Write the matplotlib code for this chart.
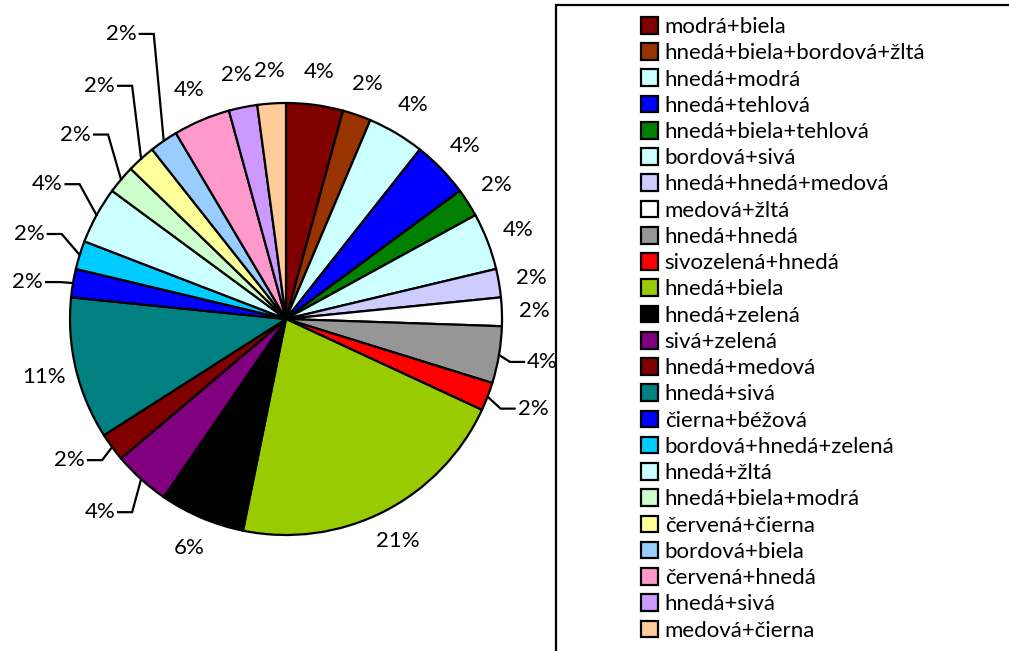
import numpy as np
import matplotlib
matplotlib.use("Agg")
import matplotlib.pyplot as plt
from matplotlib.patches import Rectangle

plt.rcParams["font.family"] = ["Lato", "DejaVu Sans"]

# ---- data (counts, n = 47) ----
labels = [
    "modrá+biela", "hnedá+biela+bordová+žltá", "hnedá+modrá", "hnedá+tehlová",
    "hnedá+biela+tehlová", "bordová+sivá", "hnedá+hnedá+medová", "medová+žltá",
    "hnedá+hnedá", "sivozelená+hnedá", "hnedá+biela", "hnedá+zelená",
    "sivá+zelená", "hnedá+medová", "hnedá+sivá", "čierna+béžová",
    "bordová+hnedá+zelená", "hnedá+žltá", "hnedá+biela+modrá", "červená+čierna",
    "bordová+biela", "červená+hnedá", "hnedá+sivá", "medová+čierna",
]
counts = [2, 1, 2, 2, 1, 2, 1, 1, 2, 1, 10, 3, 2, 1, 5, 1, 1, 2, 1, 1, 1, 2, 1, 1]
colors = [
    "#800000", "#993300", "#CCFFFF", "#0000FF", "#008000", "#CCFFFF",
    "#CCCCFF", "#FFFFFF", "#969696", "#FF0000", "#99CC00", "#000000",
    "#800080", "#800000", "#008080", "#0000FF", "#00CCFF", "#CCFFFF",
    "#CCFFCC", "#FFFF99", "#99CCFF", "#FF99CC", "#CC99FF", "#FFCC99",
]

# leader-line labels: slice index -> elbow offset from the rim (px, y up)
leaders = {
    8: (11, -7), 9: (13, -12), 12: (-9, -33), 13: (-10, -13),
    15: (-13, 1), 16: (-18, 21), 17: (-17, 31), 18: (-13, 45),
    19: (-9, 73), 20: (-10, 107),
}

W, H = 1009, 651
CX, CY, R = 286, H - 319, 216
FS = 16

fig = plt.figure(figsize=(W / 100, H / 100), dpi=100)
ax = fig.add_axes([0, 0, 1, 1])

wedges, _ = ax.pie(counts, colors=colors, startangle=90, counterclock=False,
                   center=(CX, CY), radius=R, frame=True,
                   wedgeprops=dict(edgecolor="black", linewidth=1.6))
ax.set_xlim(0, W)
ax.set_ylim(0, H)
ax.set_aspect("equal")
ax.axis("off")

total = sum(counts)
for i, w in enumerate(wedges):
    txt = f"{counts[i] / total * 100:.0f}%"
    ang = np.radians((w.theta1 + w.theta2) / 2)
    ex, ey = CX + R * np.cos(ang), CY + R * np.sin(ang)
    if i in leaders:
        dx, dy = leaders[i]
        bx, by = ex + dx, ey + dy
        side = 1 if dx > 0 else -1
        hx = bx + side * 14
        ax.plot([ex, bx, hx], [ey, by, by], color="black", lw=1.6,
                solid_joinstyle="miter")
        ax.text(hx + side * 3, by, txt, fontsize=FS,
                ha="left" if side > 0 else "right", va="center")
    else:
        lr = R + 33
        ax.text(CX + lr * np.cos(ang), CY + lr * np.sin(ang), txt,
                fontsize=FS, ha="center", va="center")

# legend box (runs off the right and bottom edges)
ax.add_patch(Rectangle((556, -20), 600, H - 5 + 20, fill=False,
                       edgecolor="black", lw=1.6, clip_on=False, zorder=5))

leg = ax.legend(wedges, labels, loc="upper left",
                bbox_to_anchor=(641 / W, (H - 17) / H),
                bbox_transform=fig.transFigure, frameon=False,
                fontsize=FS, handlelength=0.77, handleheight=0.77,
                handletextpad=0.3, labelspacing=0.28, borderpad=0,
                borderaxespad=0)
for p in leg.get_patches():
    p.set_edgecolor("black")
    p.set_linewidth(1.6)

fig.savefig("out.png", dpi=100)
